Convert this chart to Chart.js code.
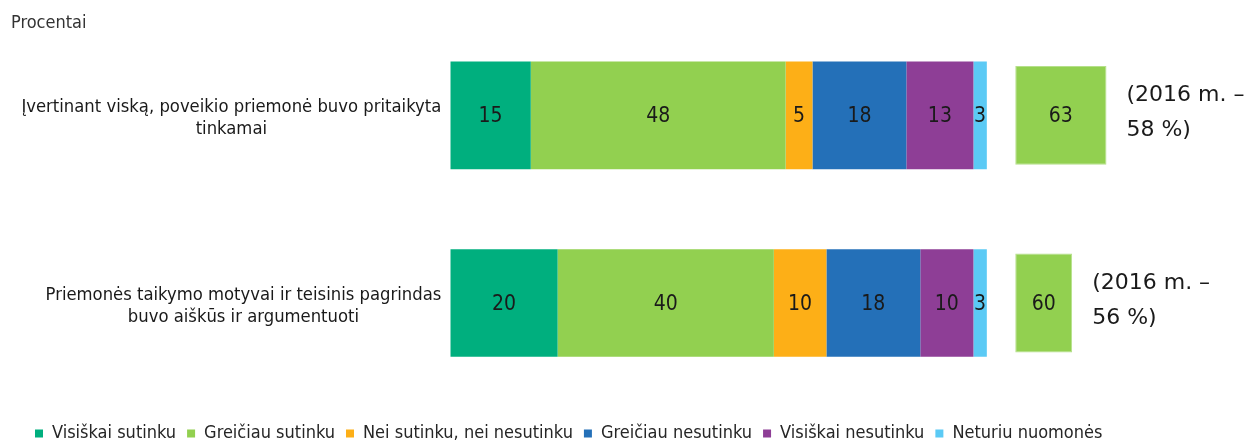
<!DOCTYPE html>
<html>
<head>
<meta charset="utf-8">
<script src="https://cdn.jsdelivr.net/npm/chart.js@4"></script>
<style>
  html, body { margin: 0; padding: 0; background: #fff; }
</style>
</head>
<body>
<canvas id="surveyChart" width="1251" height="441"></canvas>
<script>
var categories = [
    ['Įvertinant viską, poveikio priemonė buvo pritaikyta', 'tinkamai'],
    ['Priemonės taikymo motyvai ir teisinis pagrindas', 'buvo aiškūs ir argumentuoti']
];

var seriesNames = ['Visiškai sutinku', 'Greičiau sutinku', 'Nei sutinku, nei nesutinku',
    'Greičiau nesutinku', 'Visiškai nesutinku', 'Neturiu nuomonės'];
var seriesColors = ['#00AF7E', '#92D050', '#FDAF17', '#2470B8', '#8E3E96', '#5BCAF5'];

// shares (percent)
var visiskaiSutinku = [15.0, 20.0];
var greiciauSutinku = [47.5, 40.3];
var neiSutinkuNeiNesutinku = [5.0, 9.8];
var greiciauNesutinku = [17.5, 17.5];
var visiskaiNesutinku = [12.5, 9.9];
var neturiuNuomones = [2.5, 2.5];

// numbers printed on the bars
var shownVisiskaiSutinku = [15, 20];
var shownGreiciauSutinku = [48, 40];
var shownNei = [5, 10];
var shownGreiciauNesutinku = [18, 18];
var shownVisiskaiNesutinku = [13, 10];
var shownNeturiu = [3, 3];

// agree total and the 2016 comparison
var agreeTotal = [63, 60];
var notes2016 = [['(2016 m. –', '58 %)'], ['(2016 m. –', '56 %)']];

var seriesValues = [visiskaiSutinku, greiciauSutinku, neiSutinkuNeiNesutinku,
    greiciauNesutinku, visiskaiNesutinku, neturiuNuomones];
var barTexts = [shownVisiskaiSutinku, shownGreiciauSutinku, shownNei,
    shownGreiciauNesutinku, shownVisiskaiNesutinku, shownNeturiu];

var datasets = seriesNames.map(function(name, i) {
    return {
        label: name,
        data: seriesValues[i],
        backgroundColor: seriesColors[i],
        borderWidth: 0,
        categoryPercentage: 1,
        barPercentage: 0.573
    };
});
// empty gap, then the green total box (width is only a box, not a share)
datasets.push({
    label: 'tarpas',
    data: [5.3, 5.3],
    backgroundColor: 'rgba(0,0,0,0)',
    categoryPercentage: 1,
    barPercentage: 0.527
});
datasets.push({
    label: 'Iš viso sutinka',
    data: [17.0, 10.6],
    backgroundColor: '#92D050',
    borderColor: '#B5E08A',
    borderWidth: 1,
    borderSkipped: false,
    categoryPercentage: 1,
    barPercentage: 0.527
});
barTexts.push(null);
barTexts.push(agreeTotal);
var boxIndex = datasets.length - 1;

var barLabels = {
    id: 'barLabels',
    afterDatasetsDraw: function(chart) {
        var ctx = chart.ctx;
        ctx.save();
        ctx.textAlign = 'center';
        ctx.textBaseline = 'middle';
        ctx.fillStyle = '#1a1a1a';
        ctx.font = '21px "DejaVu Sans Condensed"';
        barTexts.forEach(function(texts, di) {
            if (!texts) return;
            chart.getDatasetMeta(di).data.forEach(function(bar, k) {
                var p = bar.getProps(['x', 'y', 'base'], true);
                ctx.fillText(String(texts[k]), (p.x + p.base) / 2, p.y + 1);
            });
        });

        // 2016 comparison next to the total box
        ctx.textAlign = 'left';
        ctx.font = '22px "DejaVu Sans"';
        chart.getDatasetMeta(boxIndex).data.forEach(function(bar, k) {
            var p = bar.getProps(['x', 'y'], true);
            ctx.fillText(notes2016[k][0], p.x + 20, p.y - 20);
            ctx.fillText(notes2016[k][1], p.x + 20, p.y + 15);
        });

        // category names, each block right-aligned, lines centred inside it
        var yScale = chart.scales.y;
        ctx.textAlign = 'center';
        ctx.font = '18.3px "DejaVu Sans Condensed"';
        categories.forEach(function(lines, i) {
            var widest = Math.max.apply(null, lines.map(function(l) { return ctx.measureText(l).width; }));
            var cx = chart.chartArea.left - 9 - widest / 2;
            var cy = yScale.getPixelForValue(i);
            lines.forEach(function(line, n) {
                ctx.fillText(line, cx, cy + (n - (lines.length - 1) / 2) * 22 + 3);
            });
        });
        ctx.restore();
    }
};

// put the legend down at the bottom edge like in the source
var legendPlace = {
    id: 'legendPlace',
    afterLayout: function(chart) {
        var lg = chart.legend;
        var dy = 413.5 - lg.top;
        lg.top += dy;
        lg.bottom += dy;
        lg.left += 13;
        lg.right += 13;
    }
};

var ctx = document.getElementById('surveyChart').getContext('2d');
var surveyChart = new Chart(ctx, {
    type: 'bar',
    data: {
        labels: categories,
        datasets: datasets
    },
    plugins: [barLabels, legendPlace],
    options: {
        indexAxis: 'y',
        responsive: false,
        animation: false,
        devicePixelRatio: 1,
        layout: {
            padding: { left: 11, right: 12, top: 0, bottom: 5.1 }
        },
        scales: {
            x: {
                stacked: true,
                display: false,
                min: 0,
                max: 147
            },
            y: {
                stacked: true,
                grid: { display: false },
                border: { display: false },
                ticks: { display: false },
                afterFit: function(scale) {
                    scale.width = 439.3;
                }
            }
        },
        plugins: {
            tooltip: { enabled: false },
            title: {
                display: true,
                text: 'Procentai',
                align: 'start',
                color: '#333333',
                font: { family: '"DejaVu Sans Condensed"', size: 18, weight: 'normal' },
                padding: { top: 12.5, bottom: -12.6 }
            },
            legend: {
                position: 'bottom',
                align: 'start',
                labels: {
                    boxWidth: 8,
                    boxHeight: 8,
                    padding: 11,
                    color: '#262626',
                    font: { family: '"DejaVu Sans Condensed"', size: 18 },
                    filter: function(item) {
                        return item.datasetIndex < seriesNames.length;
                    }
                }
            }
        }
    }
});
</script>
</body>
</html>
